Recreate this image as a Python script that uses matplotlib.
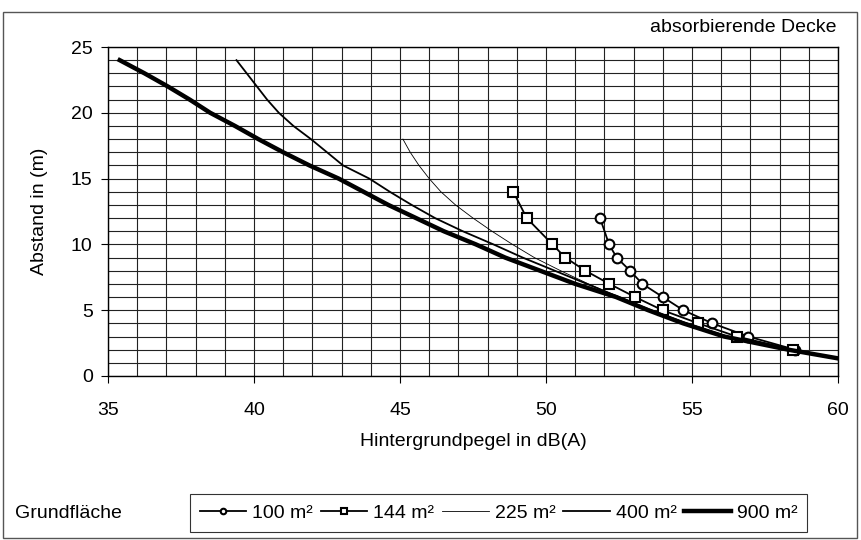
#!/usr/bin/env python3
# -*- coding: utf-8 -*-

"""
Erforderlicher Abstand in Abhängigkeit vom Hintergrundpegel
für verschiedene Grundflächen bei absorbierender Decke.
"""

import numpy as np
import matplotlib
matplotlib.use('Agg')
import matplotlib.pyplot as plt
from matplotlib.patches import Rectangle

# Abstand (m) und Hintergrundpegel dB(A) je Grundfläche
abstand_100 = [12, 10, 9, 8, 7, 6, 5, 4, 3, 2]
pegel_100 = [51.85, 52.16, 52.42, 52.88, 53.30, 54.0, 54.70, 55.70, 56.93, 58.53]

abstand_144 = [14, 12, 10, 9, 8, 7, 6, 5, 4, 3, 2]
pegel_144 = [48.88, 49.34, 50.22, 50.66, 51.35, 52.17, 53.05, 53.99, 55.22, 56.53, 58.46]

abstand_225 = [18, 17, 16, 15, 14, 13, 12, 11, 10, 9, 8, 7, 6, 5, 4, 3, 2]
pegel_225 = [45.1, 45.35, 45.65, 46.0, 46.4, 46.9, 47.5, 48.15, 48.85, 49.6,
             50.5, 51.45, 52.5, 53.6, 54.85, 56.25, 58.3]

abstand_400 = [24, 23, 22, 21, 20, 19, 18, 17, 16, 15, 14, 13, 12, 11, 10, 9,
               8, 7, 6, 5, 4, 3, 2]
pegel_400 = [39.4, 39.75, 40.1, 40.45, 40.85, 41.35, 41.95, 42.5, 43.05, 43.95,
             44.65, 45.4, 46.2, 47.15, 48.2, 49.2, 50.3, 51.4, 52.5, 53.6,
             54.8, 56.2, 58.3]

abstand_900 = [24, 23, 22, 21, 20, 19, 18, 17, 16, 15, 14, 13, 12, 11, 10, 9,
               8, 7, 6, 5, 4, 3, 2, 1.3]
pegel_900 = [35.4, 36.25, 37.05, 37.8, 38.5, 39.35, 40.15, 41.0, 41.9, 42.9,
             43.75, 44.6, 45.55, 46.5, 47.6, 48.6, 49.8, 51.0, 52.4, 53.5,
             54.7, 56.1, 58.3, 60.1]

legend_labels = ['100 m²', '144 m²', '225 m²', '400 m²', '900 m²']

W, H = 862, 540


def px(x, y):
    # Pixel -> Figurkoordinaten
    return x / W, 1 - y / H


def draw_chart():
    plt.rcParams['font.family'] = ['Liberation Sans', 'DejaVu Sans']
    plt.rcParams['font.size'] = 14

    fig = plt.figure(figsize=(W / 100, H / 100), dpi=100)
    fig.patch.set_facecolor('white')

    # Rahmen um das ganze Diagramm
    x0, y0 = px(3, 538)
    x1, y1 = px(857, 12)
    fig.patches.append(Rectangle((x0, y0), x1 - x0, y1 - y0, transform=fig.transFigure,
                                 fill=False, edgecolor='#555555', linewidth=1.0))

    l, b = px(108, 376)
    r, t = px(838, 47)
    ax = fig.add_axes([l, b, r - l, t - b])

    h1, = ax.plot(pegel_100, abstand_100, '-o', color='black', lw=1.3, ms=7,
                  mfc='white', mec='black', mew=1.5)
    h2, = ax.plot(pegel_144, abstand_144, '-s', color='black', lw=1.3, ms=7,
                  mfc='white', mec='black', mew=1.5)
    h3, = ax.plot(pegel_225, abstand_225, '-', color='black', lw=0.6)
    h4, = ax.plot(pegel_400, abstand_400, '-', color='black', lw=1.3)
    h5, = ax.plot(pegel_900, abstand_900, '-', color='black', lw=3.2)

    ax.set_xlim(35, 60)
    ax.set_ylim(0, 25)
    ax.set_xticks(np.arange(35, 61, 5))
    ax.set_yticks(np.arange(0, 26, 5))
    ax.set_xticks(np.arange(35, 61, 1), minor=True)
    ax.set_yticks(np.arange(0, 26, 1), minor=True)
    ax.grid(which='both', color='#222222', linewidth=0.8)
    ax.set_axisbelow(True)
    ax.tick_params(which='major', direction='out', length=5, width=0.8, labelsize=14)
    ax.tick_params(which='minor', length=0)
    ax.tick_params(axis='x', pad=14)
    ax.tick_params(axis='y', pad=6)
    for sp in ax.spines.values():
        sp.set_color('black')
        sp.set_linewidth(1.0)

    # Beschriftungen
    fig.text(*px(473, 442), 'Hintergrundpegel in dB(A)', ha='center', va='center', fontsize=14)
    fig.text(*px(40, 211), 'Abstand in (m)', ha='center', va='center',
             rotation=90, fontsize=14)
    fig.text(*px(837, 28), 'absorbierende Decke', ha='right', va='center', fontsize=14)
    fig.text(*px(15, 513), 'Grundfläche', ha='left', va='center', fontsize=14)

    leg = fig.legend([h1, h2, h3, h4, h5], legend_labels, ncol=5,
                     loc='center left', bbox_to_anchor=px(190, 513),
                     frameon=True, fancybox=False, edgecolor='black',
                     fontsize=14, handlelength=2.4, handletextpad=0.3,
                     columnspacing=0.4, borderpad=0.5, borderaxespad=0)
    leg.get_frame().set_linewidth(0.8)
    for hd in leg.legend_handles[:2]:
        hd.set_markersize(4)

    fig.savefig('out.png', dpi=100, facecolor='white')


def main():
    draw_chart()


if __name__ == '__main__':
    main()
